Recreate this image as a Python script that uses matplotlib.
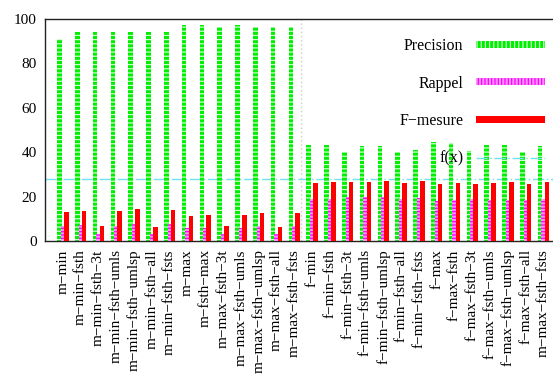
import matplotlib
matplotlib.use("Agg")
import matplotlib.pyplot as plt
import numpy as np
from matplotlib.patches import Patch
from matplotlib.lines import Line2D

M = "\u2212"
categories = [
    "m-min", "m-min-fsth", "m-min-fsth-3t", "m-min-fsth-umls", "m-min-fsth-umlsp",
    "m-min-fsth-all", "m-min-fsth-fsts", "m-max", "m-fsth-max", "m-max-fsth-3t",
    "m-max-fsth-umls", "m-max-fsth-umlsp", "m-max-fsth-all", "m-max-fsth-fsts",
    "f-min", "f-min-fsth", "f-min-fsth-3t", "f-min-fsth-umls", "f-min-fsth-umlsp",
    "f-min-fsth-all", "f-min-fsth-fsts", "f-max", "f-max-fsth", "f-max-fsth-3t",
    "f-max-fsth-umls", "f-max-fsth-umlsp", "f-max-fsth-all", "m-max-fsth-fsts",
]
precision = [91.2, 94.2, 94.0, 94.0, 94.0, 94.0, 94.0, 97.2, 97.5, 96.5, 97.5, 96.5, 96.5, 96.5,
             43.2, 43.2, 40.2, 43.0, 43.0, 40.2, 41.1, 44.8, 44.2, 40.6, 43.2, 43.2, 40.2, 42.6]
rappel = [6.8, 7.2, 3.0, 6.8, 7.7, 3.0, 7.7, 5.7, 5.7, 3.0, 5.7, 6.8, 3.0, 6.8,
          18.8, 18.8, 19.6, 19.6, 20.0, 18.8, 19.3, 17.9, 18.5, 18.8, 18.5, 18.5, 18.5, 19.0]
fmesure = [13.2, 13.7, 6.8, 13.5, 14.3, 6.2, 14.0, 11.3, 11.9, 6.9, 11.7, 12.5, 6.5, 12.5,
           26.0, 26.5, 26.5, 26.6, 27.2, 26.2, 27.1, 25.6, 26.2, 25.9, 26.2, 26.5, 25.9, 26.5]
fx_value = 28
series_names = ["Precision", "Rappel", "F" + M + "mesure", "f(x)"]

plt.rcParams["font.family"] = ["Liberation Serif", "DejaVu Serif"]
plt.rcParams["hatch.linewidth"] = 0.9

fig = plt.figure(figsize=(5.53, 3.80), dpi=100)
ax = fig.add_axes([45 / 553, 139 / 380, 508 / 553, 222 / 380])

x = np.arange(len(categories))
ax.bar(x - 0.185, precision, width=0.26, facecolor="#00ee00", edgecolor="#c8ffc8",
       hatch="----", linewidth=0, zorder=2)
ax.bar(x + 0.0, rappel, width=0.22, facecolor="#ff90ff", edgecolor="#ff00ff",
       hatch="-----", linewidth=0, zorder=3)
ax.bar(x + 0.2, fmesure, width=0.26, facecolor="#ff0000", edgecolor="#ff0000",
       linewidth=0, zorder=4)

ax.axhline(fx_value, color="#70e4ee", lw=1.0, ls=(0, (8, 2, 1, 2)), zorder=1)
ax.axvline(13.4, color="#cccccc", lw=1.0, ls=(0, (1, 2)), zorder=1)

ax.set_xlim(-1, 27.54)
ax.set_ylim(0, 100)
ax.set_yticks(range(0, 101, 20))
ax.set_xticks(x)
ax.set_xticklabels([c.replace("-", M) for c in categories], rotation=90, fontsize=11)
ax.tick_params(axis="y", length=0, labelsize=11, pad=6)
ax.tick_params(axis="x", length=0, pad=6)
for s in ["left", "top", "bottom"]:
    ax.spines[s].set_linewidth(1.0)
    ax.spines[s].set_color("#222222")
ax.spines["right"].set_visible(False)

handles = [
    Patch(facecolor="#00ee00", edgecolor="#c8ffc8", hatch="||||", linewidth=0),
    Patch(facecolor="#ff90ff", edgecolor="#ff00ff", hatch="|||||", linewidth=0),
    Patch(facecolor="#ff0000", edgecolor="#ff0000", linewidth=0),
    Line2D([0], [0], color="#70e4ee", lw=1.0, ls=(0, (8, 2, 1, 2))),
]
ax.legend(handles, series_names, loc="upper right", bbox_to_anchor=(545 / 553, 1 - 38 / 380),
          bbox_transform=fig.transFigure, frameon=False, markerfirst=False,
          fontsize=11.5, handlelength=4.3, handleheight=0.3, labelspacing=1.35,
          handletextpad=0.8, borderaxespad=0, borderpad=0)

fig.savefig("out.png", dpi=100)
